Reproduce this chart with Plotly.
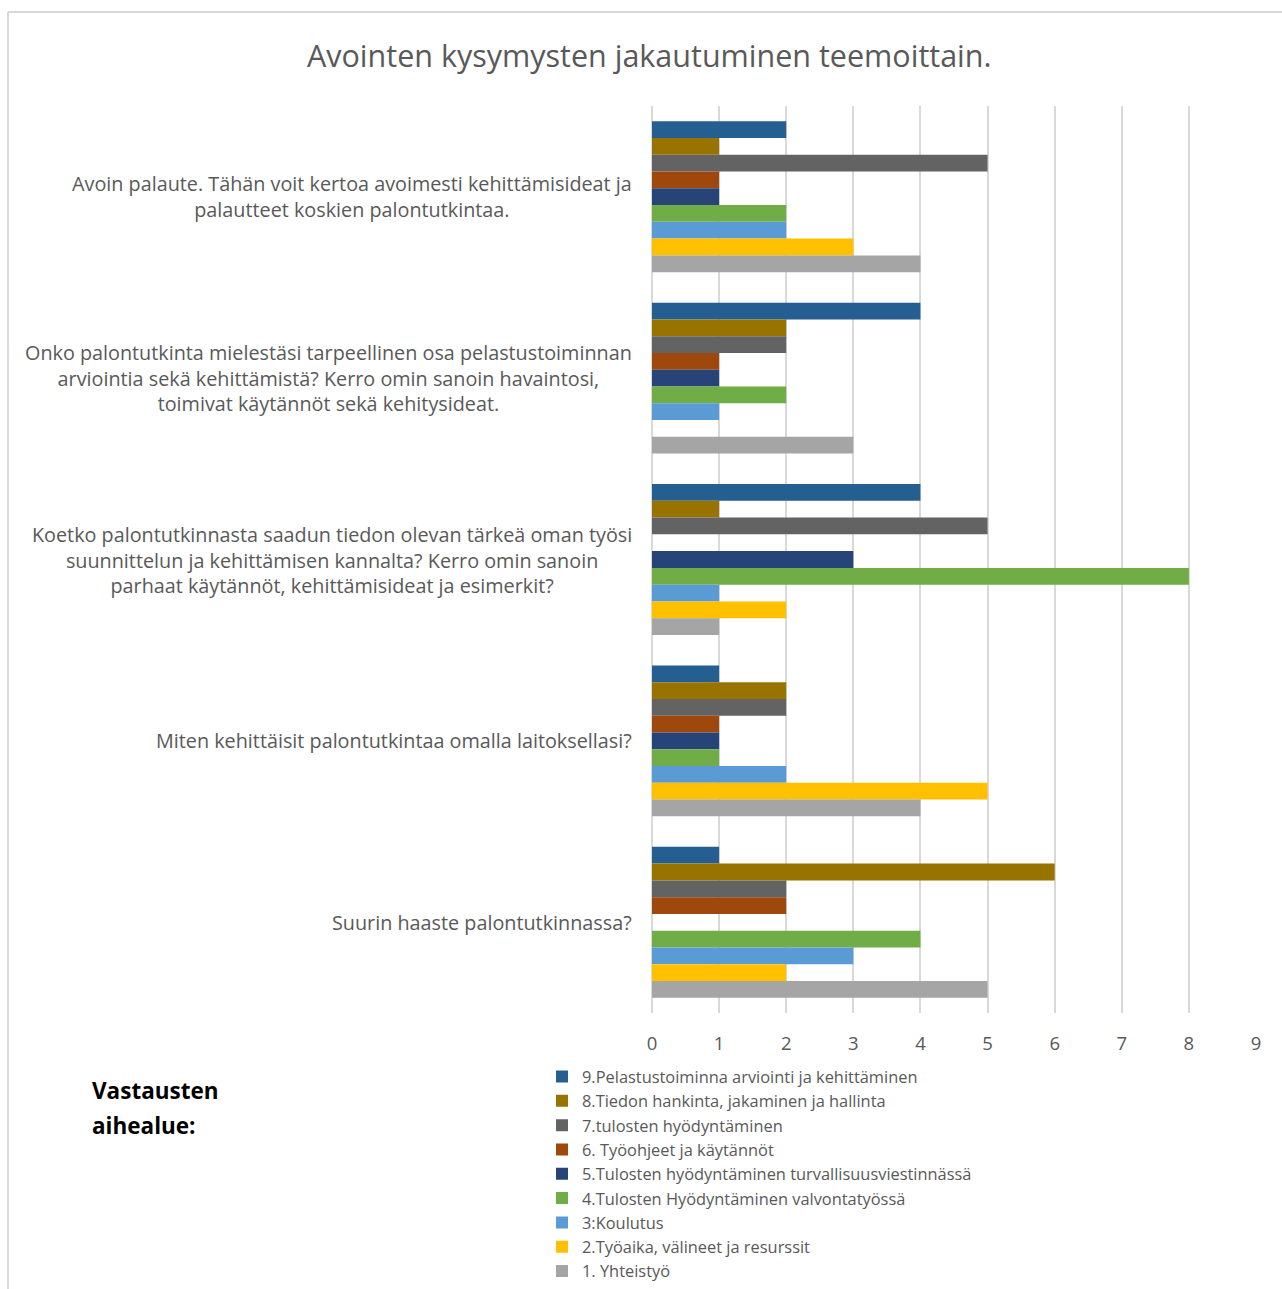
import plotly.graph_objects as go

W, H = 1282, 1289

categories = [
    "Avoin palaute. Tähän voit kertoa avoimesti kehittämisideat ja<br>palautteet koskien palontutkintaa.",
    "Onko palontutkinta mielestäsi tarpeellinen osa pelastustoiminnan<br>arviointia sekä kehittämistä? Kerro omin sanoin havaintosi,<br>toimivat käytännöt sekä kehitysideat.",
    "Koetko palontutkinnasta saadun tiedon olevan tärkeä oman työsi<br>suunnittelun ja kehittämisen kannalta? Kerro omin sanoin<br>parhaat käytännöt, kehittämisideat ja esimerkit?",
    "Miten kehittäisit palontutkintaa omalla laitoksellasi?",
    "Suurin haaste palontutkinnassa?",
]

series_names = [
    "9.Pelastustoiminna arviointi ja kehittäminen",
    "8.Tiedon hankinta, jakaminen ja hallinta",
    "7.tulosten hyödyntäminen",
    "6. Työohjeet ja käytännöt",
    "5.Tulosten hyödyntäminen turvallisuusviestinnässä",
    "4.Tulosten Hyödyntäminen valvontatyössä",
    "3:Koulutus",
    "2.Työaika, välineet ja resurssit",
    "1. Yhteistyö",
]

s9 = [2, 4, 4, 1, 1]
s8 = [1, 2, 1, 2, 6]
s7 = [5, 2, 5, 2, 2]
s6 = [1, 1, None, 1, 2]
s5 = [1, 1, 3, 1, None]
s4 = [2, 2, 8, 1, 4]
s3 = [2, 1, 1, 2, 3]
s2 = [3, None, 2, 5, 2]
s1 = [4, 3, 1, 4, 5]
series_values = [s9, s8, s7, s6, s5, s4, s3, s2, s1]

colors = ["#255E91", "#997300", "#636363", "#9E480E", "#264478",
          "#70AD47", "#5B9BD5", "#FFC000", "#A5A5A5"]

title_text = "Avointen kysymysten jakautuminen teemoittain."
legend_heading = ["Vastausten", "aihealue:"]

FONT = "Open Sans"
GREY = "#595959"

fig = go.Figure()
for i, (name, vals, col) in enumerate(zip(series_names, series_values, colors)):
    fig.add_trace(go.Bar(
        y=categories, x=vals, name=name, orientation="h",
        marker=dict(color=col, line=dict(width=0)),
    ))

fig.update_layout(
    template="none",
    width=W, height=H, autosize=False,
    margin=dict(l=0, r=0, t=0, b=0, pad=0),
    paper_bgcolor="white", plot_bgcolor="white",
    barmode="group", bargap=0.168, bargroupgap=0,
    font=dict(family=FONT, color=GREY, size=17),
    showlegend=True,
    legend=dict(
        x=542 / W, y=0.0005, xanchor="left", yanchor="bottom",
        font=dict(size=16.4, color=GREY, family=FONT),
        itemwidth=30, bgcolor="rgba(0,0,0,0)", borderwidth=0,
    ),
    xaxis=dict(
        domain=[652 / W, 1256 / W], range=[0, 9], dtick=1, tick0=0,
        automargin=False,
        showgrid=True, gridcolor="#d9d9d9", gridwidth=2,
        zeroline=True, zerolinecolor="#d9d9d9", zerolinewidth=2,
        showline=False, ticks="", ticklabelstandoff=17,
        tickfont=dict(size=18.5, color=GREY),
        fixedrange=True,
    ),
    yaxis=dict(
        domain=[1 - 1013 / H, 1 - 106 / H], autorange="reversed",
        automargin=False,
        showticklabels=False, showgrid=False, zeroline=False, showline=False,
        ticks="", fixedrange=True,
    ),
    shapes=[
        dict(type="line", xref="paper", yref="paper",
             x0=8 / W, x1=8 / W, y0=0, y1=1 - 12 / H,
             line=dict(color="#d9d9d9", width=2), layer="below"),
        dict(type="line", xref="paper", yref="paper",
             x0=8 / W, x1=1, y0=1 - 12 / H, y1=1 - 12 / H,
             line=dict(color="#d9d9d9", width=2), layer="below"),
    ],
)

annotations = [dict(
    text=title_text, xref="paper", yref="paper",
    x=649 / W, y=1 - 55 / H, xanchor="center", yanchor="middle",
    showarrow=False, font=dict(size=30.5, color=GREY, family=FONT),
)]
for cat in categories:
    annotations.append(dict(
        text=cat, xref="paper", yref="y", x=634 / W, y=cat,
        xanchor="right", yanchor="middle", align="center",
        showarrow=False, font=dict(size=19.8, color=GREY, family=FONT),
    ))
for j, line in enumerate(legend_heading):
    annotations.append(dict(
        text=f"<b>{line}</b>", xref="paper", yref="paper",
        x=90 / W, y=1 - (1090 + 35 * j) / H, xanchor="left", yanchor="middle",
        showarrow=False, font=dict(size=22.5, color="#000000", family=FONT),
    ))
fig.update_layout(annotations=annotations)

fig.write_html("out.html", config={"displayModeBar": False},
               post_script="document.body.style.margin='0';")
